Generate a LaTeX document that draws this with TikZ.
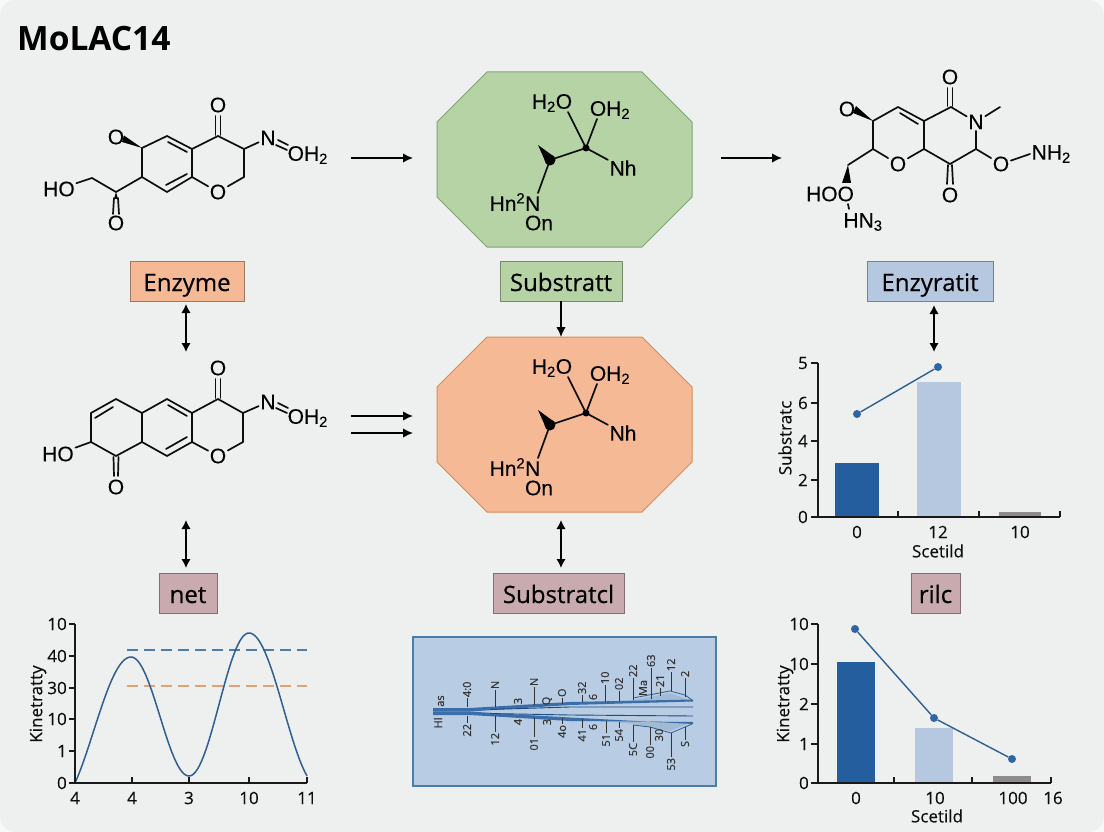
\documentclass[tikz,border=0pt]{standalone}
\usepackage{fontspec}
\setmainfont{Open Sans}
\newfontfamily\chemfont[FakeBold=0.25]{Liberation Sans}
\newfontfamily\tagfont[FakeBold=0.45]{Open Sans}
\newfontfamily\plotfont[FakeBold=0.3]{Open Sans}
\usetikzlibrary{arrows.meta}
\definecolor{pagebg}{HTML}{EEEFEF}
\definecolor{pagerim}{HTML}{F8F8F8}
\definecolor{darkbar}{HTML}{255E9E}
\definecolor{lightbar}{HTML}{B5C8E0}
\definecolor{greybar}{HTML}{8F8A8C}
\definecolor{trendblue}{HTML}{2F5F90}
\definecolor{dotblue}{HTML}{2D65A5}
\definecolor{dashorange}{HTML}{E0A272}
\definecolor{dashblue}{HTML}{4F7CA3}
\definecolor{panelblue}{HTML}{B8CCE4}
\definecolor{peach}{HTML}{F6B995}
\definecolor{sage}{HTML}{B5D3A5}
\definecolor{mauve}{HTML}{C9AAAF}
\tikzset{
  atom/.style={font=\chemfont\fontsize{21}{21}\selectfont,inner sep=1.5pt,text=black},
  bond/.style={line width=1.7pt,line cap=round,black!95},
  flowarrow/.style={line width=1.6pt,-{Latex[length=10pt,width=9.5pt]},black},
  biarrow/.style={line width=1.6pt,{Latex[length=9pt,width=9.5pt]}-{Latex[length=9pt,width=9.5pt]},black},
  tagbox/.style={draw=#1!65!black,fill=#1,line width=0.9pt,minimum height=40pt,inner sep=0pt,text height=20pt,text depth=0pt,font=\tagfont\fontsize{24}{24}\selectfont},
  axisline/.style={line width=1.2pt,black!90},
  ticklab/.style={font=\plotfont\fontsize{17}{17}\selectfont,inner sep=0pt,text=black!95},
  axislab/.style={font=\plotfont\fontsize{17}{17}\selectfont,inner sep=0pt,text=black!95},
  trendline/.style={line width=1.4pt,trendblue},
  dotmark/.style={circle,fill=dotblue,inner sep=0pt,minimum size=8pt},
  panellab/.style={font=\plotfont\fontsize{11}{11}\selectfont,inner sep=0.5pt,rotate=90,text=black!80},
  panelline/.style={line width=0.9pt,black!80},
}
\begin{document}
\begin{tikzpicture}[x=1pt,y=-1pt]
  \useasboundingbox (0,0) rectangle (1104,832);
  \fill[pagerim] (0,0) rectangle (1104,832);
  \fill[pagebg,rounded corners=16pt] (0,0) rectangle (1104,832);
  \node[anchor=base west,inner sep=0pt,font=\bfseries\fontsize{33.5}{33.5}\selectfont] (title) at (17,51) {MoLAC14};

  % top left molecule
  \foreach \n/\x/\y in {a/142/148,b/167/136,c/192/149,d/192/177,e/167/192,f/142/177,g/218/136,h/244/149,i/244/177,j/116/192,k/92/178}
    \coordinate (ta\n) at (\x,\y);
  \node[atom] (tao) at (218,192) {O};
  \node[atom] (taot) at (218,105) {O};
  \node[atom] (taol) at (116,137) {O};
  \node[atom] (taob) at (116,223) {O};
  \node[atom] (tahl) at (59,189) {HO};
  \node[atom] (tan) at (268,138) {N};
  \node[atom,anchor=west] (taoh) at (286,155) {OH\textsubscript{2}};
  \foreach \p/\q in {a/b,b/c,c/d,d/e,e/f,f/a,c/g,g/h,h/i,i/o,d/o,f/j,j/k,k/hl,h/n}
    \draw[bond] (ta\p) -- (ta\q);
  \draw[bond] (168,142) -- (187,152) (166,185) -- (187,174);
  \draw[bond] (215.5,116) -- (215.5,135) (220.5,116) -- (220.5,135);
  \draw[bond] (278,140) -- (288,145) (276,145) -- (287,150);
  \fill[black] (taa) -- (124,135.5) -- (122,142) -- cycle;
  \fill[black] (116,192) -- (114,199) -- (118,199) -- cycle;
  \draw[bond] (114,198) -- (113,214) (118,198) -- (119,214);

  % middle left molecule
  \foreach \n/\x/\y in {a/91/413,b/116/399,c/142/413,d/142/442,e/116/456,f/91/442,g/167/399,h/192/413,i/192/442,j/167/456,k/218/399,l/243/413,m/243/442}
    \coordinate (ma\n) at (\x,\y);
  \node[atom] (mao) at (218,456) {O};
  \node[atom] (maot) at (218,368) {O};
  \node[atom] (maob) at (116,487) {O};
  \node[atom] (mahl) at (58,454) {HO};
  \node[atom] (man) at (268,402) {N};
  \node[atom,anchor=west] (maoh) at (286,418) {OH\textsubscript{2}};
  \foreach \p/\q in {a/b,b/c,c/d,d/e,e/f,f/a,c/g,g/h,h/i,i/j,j/d,h/k,k/l,l/m,m/o,i/o,f/hl,l/n}
    \draw[bond] (ma\p) -- (ma\q);
  \draw[bond] (95,418) -- (113,407) (168,405) -- (187,416) (166,449) -- (187,437);
  \draw[bond] (215.5,379) -- (215.5,398) (220.5,379) -- (220.5,398);
  \draw[bond] (113.5,457) -- (114,476) (118.5,457) -- (118,476);
  \draw[bond] (278,403) -- (288,408) (276,408) -- (287,413);

  % top right molecule
  \foreach \n/\x/\y in {a/873/121,b/898/107,c/924/121,d/924/149,f/873/149,g/951/107,i/976/149,j/950/164,k/848/165,l/1000/107}
    \coordinate (tc\n) at (\x,\y);
  \node[atom] (tco) at (898,164) {O};
  \node[atom] (tcn) at (976,122) {N};
  \node[atom] (tcot) at (950,77) {O};
  \node[atom] (tcol) at (847,109) {O};
  \node[atom] (tcor) at (1001,164) {O};
  \node[atom] (tcob) at (950,195) {O};
  \node[atom,anchor=west] (tcnh) at (1030,154) {NH\textsubscript{2}};
  \node[atom] (tchoo) at (830,194) {HOO};
  \node[atom] (tchn) at (863,222) {HN\textsubscript{3}};
  \foreach \p/\q in {a/b,b/c,c/d,d/o,o/f,f/a,c/g,g/n,n/i,i/j,j/d,f/k,i/or,n/l}
    \draw[bond] (tc\p) -- (tc\q);
  \draw[bond] (tcor) -- (tcnh.west);
  \draw[bond] (900,113) -- (918,124);
  \draw[bond] (947.5,88) -- (947.5,106) (952.5,88) -- (952.5,106);
  \draw[bond] (948,165) -- (947,184) (952,165) -- (953,184);
  \draw[bond] (848,204) -- (849,209);
  \fill[black] (tca) -- (856,106) -- (853,113) -- cycle;
  \fill[black] (tck) -- (842,183) -- (851,183) -- cycle;

  % centre octagon pair
  \foreach \dy/\fillc/\drawc in {0/sage/7FA574,265/peach/D98A4F} {
    \begin{scope}[shift={(0,\dy)}]
      \definecolor{rim}{HTML}{\drawc}
      \filldraw[fill=\fillc,draw=rim,line width=1pt] (487,72) -- (642,72) -- (692,122) -- (692,197) -- (642,247) -- (487,247) -- (437,197) -- (437,122) -- cycle;
      \coordinate (cc) at (586,148);
      \coordinate (cd) at (550,160);
      \node[atom] (ch) at (552,103) {H\textsubscript{2}O};
      \node[atom] (co) at (610,110) {OH\textsubscript{2}};
      \node[atom] (cn) at (623,168) {Nh};
      \node[atom] (cm) at (515,202) {Hn\textsuperscript{2}N};
      \node[atom] (cb) at (539,223) {On};
      \draw[bond] (568,112) -- (cc) (597,119) -- (cc) (cc) -- (cd) (cc) -- (cn) (cd) -- (538,193);
      \fill[black] (cc) circle (3.5pt);
      \fill[black] (cd) circle (5.5pt);
      \fill[black] (538,145) -- (554.5,157) -- (546,163) -- cycle;
    \end{scope}
  }

  % tags
  \node[tagbox=peach,minimum width=114pt] (enzyme) at (187,281) {Enzyme};
  \node[tagbox=sage,minimum width=122pt] (substratt) at (561,281) {Substratt};
  \node[tagbox=lightbar,minimum width=126pt] (enzyratit) at (930,281) {Enzyratit};
  \node[tagbox=mauve,minimum width=58pt] (net) at (188,593) {net};
  \node[tagbox=mauve,minimum width=131pt] (substratcl) at (558.5,593) {Substratcl};
  \node[tagbox=mauve,minimum width=49pt] (rilc) at (935.5,593) {rilc};

  % arrows
  \foreach \n/\x/\y in {flowa/351/158,flowb/413/158,flowc/721/158,flowd/782/158,flowe/351/416,flowf/413/416,flowg/351/433,flowh/413/433,
    enzdown/186/352,enzup/186/304,subdown/561/337,ratup/934/305,ratdown/934/352,midl/186/520,midlb/186/568,midc/561/520,midcb/561/568}
    \coordinate (\n) at (\x,\y);
  \draw[flowarrow] (flowa) -- (flowb);
  \draw[flowarrow] (flowc) -- (flowd);
  \draw[flowarrow] (flowe) -- (flowf);
  \draw[flowarrow] (flowg) -- (flowh);
  \draw[biarrow] (enzup) -- (enzdown);
  \draw[flowarrow] (substratt) -- (subdown);
  \draw[biarrow] (ratup) -- (ratdown);
  \draw[biarrow] (midl) -- (midlb);
  \draw[biarrow] (midc) -- (midcb);

  % right top chart
  \fill[darkbar] (835,463) rectangle (879,517);
  \fill[lightbar] (917,382) rectangle (961,517);
  \fill[greybar] (999,512) rectangle (1041,517);
  \draw[axisline] (818,363) -- (818,517) -- (1060,517);
  \foreach \y/\lab in {363/5,403/6,441/4,480/2,517/0} {
    \draw[axisline] (811,\y) -- (818,\y);
    \node[ticklab,anchor=east] at (808,\y) {\lab};
  }
  \foreach \x in {898,979,1060} \draw[axisline] (\x,511) -- (\x,517);
  \foreach \x/\lab in {857/0,938/12,1020/10} \node[ticklab] at (\x,532) {\lab};
  \node[axislab] (scetilda) at (938,551) {Scetild};
  \node[axislab,rotate=90] (substratc) at (785,438) {Substratc};
  \node[dotmark] (ra) at (857,414) {};
  \node[dotmark] (rb) at (938,367) {};
  \draw[trendline] (ra) -- (rb);

  % right bottom chart
  \fill[darkbar] (837,662) rectangle (875,783);
  \fill[lightbar] (915,728) rectangle (953,783);
  \fill[greybar] (993,776) rectangle (1031,783);
  \draw[axisline] (818,624) -- (818,783) -- (1051,783);
  \foreach \y/\lab in {624/10,664/10,704/2,744/1,783/0} {
    \draw[axisline] (811,\y) -- (818,\y);
    \node[ticklab,anchor=east] at (809,\y) {\lab};
  }
  \foreach \x in {894,972,1051} \draw[axisline] (\x,777) -- (\x,783);
  \foreach \x/\lab in {856/0,935/10,1013/100,1053/16} \node[ticklab] at (\x,798) {\lab};
  \node[axislab] (scetildb) at (937,816) {Scetild};
  \node[axislab,rotate=90] (kinetrattyb) at (785,704) {Kinetratty};
  \node[dotmark] (sa) at (855,629) {};
  \node[dotmark] (sb) at (934,718) {};
  \node[dotmark] (sc) at (1012,759) {};
  \draw[trendline] (sa) -- (sb) -- (sc);

  % left bottom chart
  \draw[dashblue,line width=1.5pt,dash pattern=on 11pt off 6pt] (127,650) -- (307,650);
  \draw[dashorange,line width=1.5pt,dash pattern=on 11pt off 6pt] (127,686) -- (307,686);
  \draw[trendline,line width=1.5pt] plot[domain=135:0,samples=30] ({131-56*\x/135},{657+73.8*(1-cos(\x))});
  \draw[trendline,line width=1.5pt] plot[domain=0:180,samples=40] ({131+58*\x/180},{716.5-59.5*cos(\x)});
  \draw[trendline,line width=1.5pt] plot[domain=0:180,samples=40] ({189+60*\x/180},{704.5+71.5*cos(\x)});
  \draw[trendline,line width=1.5pt] plot[domain=0:150,samples=30] ({249+58*\x/150},{633+76.6*(1-cos(\x))});
  \draw[axisline] (75,624) -- (75,783) -- (307,783);
  \foreach \y/\lab in {624/10,656/40,688/30,719/10,751/1,783/0} {
    \draw[axisline] (69,\y) -- (75,\y);
    \node[ticklab,anchor=east] at (67,\y) {\lab};
  }
  \foreach \x/\lab in {75/4,132/4,189/3,249/10,307/11} {
    \draw[axisline] (\x,777) -- (\x,783);
    \node[ticklab] at (\x,798) {\lab};
  }
  \node[axislab,rotate=90] (kinetrattya) at (38,704) {Kinetratty};

  % blue panel
  \filldraw[fill=panelblue,draw=dashblue,line width=1.2pt] (413,637) rectangle (716,786);
  \fill[dashblue!75!white,opacity=.35] (633,700) -- (670,693) -- (692,701) -- (600,703) -- cycle;
  \fill[dashblue!75!white,opacity=.35] (633,724) -- (670,731) -- (692,722) -- (600,720) -- cycle;
  \fill[darkbar!85!panelblue] (433,708) -- (470,708) -- (570,702) -- (693,699.5) -- (693,701.5) -- (570,705) -- (500,709.5) -- (470,711.5) -- (433,711.5) -- cycle;
  \fill[darkbar!85!panelblue] (433,715) -- (470,715) -- (570,721) -- (693,722) -- (693,724) -- (570,717.5) -- (500,713.5) -- (470,711.5) -- (433,711.5) -- cycle;
  \draw[darkbar!80!black,line width=0.9pt] (490,709.5) -- (570,707) -- (693,707);
  \draw[darkbar!80!black,line width=0.9pt] (490,713.5) -- (570,715) -- (693,716);
  \draw[trendblue,line width=0.8pt] (633,698) -- (670,691) -- (685,695) -- (692,700);
  \draw[trendblue,line width=0.8pt] (633,725) -- (650,727) -- (671,733) -- (685,727) -- (692,724);
  \foreach \x/\ya/\yb/\lab in {467/707/698/4:0,495/707/690/N,534/705/687/N,562/704/698/O,582/702/695/32,605/702/685/10,619/701/691/02,633/700/678/22,651/699/668/63,660/696/688/21,671/691/672/12,685/697/678/2}
    \draw[panelline] (\x,\ya) -- (\x,\yb) node[panellab,anchor=west] {\lab};
  \foreach \x/\ya/\yb/\lab in {467/716/723/22,495/716/732/12,534/718/737/01,562/718/724/4o,582/719/728/41,606/721/733/51,619/722/728/54,633/725/742/5C,650/727/745/00,671/733/757/53,685/727/740/S}
    \draw[panelline] (\x,\ya) -- (\x,\yb) node[panellab,anchor=east] {\lab};
  \foreach \x/\y/\lab in {518/701/3,547/701/Q,593/697/6,643/688/Ma,518/722/4,547/722/3,593/727/6,659/735/30,441/701/as,438/723/Hl}
    \node[panellab] at (\x,\y) {\lab};
\end{tikzpicture}
\end{document}
